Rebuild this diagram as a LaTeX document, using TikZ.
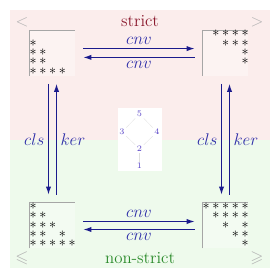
\documentclass[tikz,border=0pt]{standalone}
\usepackage{amsmath,amssymb}
\usetikzlibrary{arrows.meta}
\definecolor{arrowblue}{HTML}{1A1A8C}
\definecolor{labelblue}{HTML}{2E2EA8}
\definecolor{hassepurple}{HTML}{5A46C8}
\definecolor{strictred}{HTML}{8B1A2E}
\definecolor{nonstrictgreen}{HTML}{2A8A2A}
\definecolor{strictbg}{HTML}{FBEDEC}
\definecolor{nonstrictbg}{HTML}{EEFAEC}

\begin{document}
\begin{tikzpicture}[x=0.025cm, y=-0.025cm,
    mbox/.style={minimum width=1.125cm, minimum height=1.125cm, inner sep=0pt, fill=white, fill opacity=0.35},
    star/.style={inner sep=0pt, font=\normalsize},
    arr/.style={-{Latex[length=2mm, width=1.3mm]}, arrowblue, thick, shorten >=0.2cm, shorten <=0.2cm},
    lbl/.style={text=labelblue, font=\large, inner sep=2.5pt},
    corner/.style={text=gray!60, font=\large},
    hnode/.style={text=hassepurple, font=\fontsize{6}{7}\selectfont, inner sep=1pt},
    hedge/.style={gray!25, very thin}]

  \useasboundingbox (0,0) rectangle (280,280);
  \fill[strictbg] (10,10) rectangle (270,140);
  \fill[nonstrictbg] (10,140) rectangle (270,268);

  \node[text=strictred, font=\large] (strict) at (140,21) {strict};
  \node[text=nonstrictgreen, font=\large] (nonstrict) at (140,258) {non-strict};
  \node[corner] (lt) at (22,22) {$<$};
  \node[corner] (gt) at (257,22) {$>$};
  \node[corner] (leq) at (22,258) {$\leqslant$};
  \node[corner] (geq) at (257,258) {$\geqslant$};

  % matrices
  \node[mbox] (tl) at (52.5,53) {};
  \node[mbox] (tr) at (225.5,53) {};
  \node[mbox] (bl) at (52.5,225.5) {};
  \node[mbox] (br) at (225.5,225.5) {};
  \foreach \m in {tl,tr,bl,br}
    \draw[gray!70, thin] (\m.south west) |- (\m.north east);

  \begin{scope}[shift={(tl.north west)}]
    \foreach \r/\c in {2/1,3/1,3/2,4/1,4/2,5/1,5/2,5/3,5/4}
      \node[star] (tl-\r-\c) at ({3.5+9.7*(\c-1)},{3.5+9.3*(\r-1)}) {$\ast$};
  \end{scope}
  \begin{scope}[shift={(tr.north west)}]
    \foreach \r/\c in {1/2,1/3,1/4,1/5,2/3,2/4,2/5,3/5,4/5}
      \node[star] (tr-\r-\c) at ({3.5+9.7*(\c-1)},{3.5+9.3*(\r-1)}) {$\ast$};
  \end{scope}
  \begin{scope}[shift={(bl.north west)}]
    \foreach \r/\c in {1/1,2/1,2/2,3/1,3/2,3/3,4/1,4/2,4/4,5/1,5/2,5/3,5/4,5/5}
      \node[star] (bl-\r-\c) at ({3.5+9.7*(\c-1)},{3.5+9.3*(\r-1)}) {$\ast$};
  \end{scope}
  \begin{scope}[shift={(br.north west)}]
    \foreach \r/\c in {1/1,1/2,1/3,1/4,1/5,2/2,2/3,2/4,2/5,3/3,3/5,4/4,4/5,5/5}
      \node[star] (br-\r-\c) at ({3.5+9.7*(\c-1)},{3.5+9.3*(\r-1)}) {$\ast$};
  \end{scope}

  \draw[arr] ([yshift=0.11cm]tl.east) -- ([yshift=0.11cm]tr.west) node[lbl, midway, above] {$cnv$};
  \draw[arr] ([yshift=-0.11cm]tr.west) -- ([yshift=-0.11cm]tl.east) node[lbl, midway, below] {$cnv$};
  \draw[arr] ([yshift=0.1cm]bl.east) -- ([yshift=0.1cm]br.west) node[lbl, midway, above] {$cnv$};
  \draw[arr] ([yshift=-0.1cm]br.west) -- ([yshift=-0.1cm]bl.east) node[lbl, midway, below] {$cnv$};

  \draw[arr] ([xshift=-0.1cm]tl.south) -- ([xshift=-0.1cm]bl.north) node[lbl, midway, left] {$cls$};
  \draw[arr] ([xshift=0.1cm]bl.north) -- ([xshift=0.1cm]tl.south) node[lbl, midway, right] {$ker$};
  \draw[arr] ([xshift=-0.1cm]tr.south) -- ([xshift=-0.1cm]br.north) node[lbl, midway, left] {$cls$};
  \draw[arr] ([xshift=0.1cm]br.north) -- ([xshift=0.1cm]tr.south) node[lbl, midway, right] {$ker$};

  % lattice in the middle
  \fill[white] (118,108) rectangle (162,171);
  \node[hnode] (h5) at (139.5,114) {5};
  \node[hnode] (h3) at (122,132) {3};
  \node[hnode] (h4) at (157,132) {4};
  \node[hnode] (h2) at (139.5,149) {2};
  \node[hnode] (h1) at (139.5,166) {1};
  \draw[hedge] (h5) -- (h3) -- (h2) -- (h4) -- (h5);
  \draw[hedge] (h2) -- (h1);
\end{tikzpicture}
\end{document}
